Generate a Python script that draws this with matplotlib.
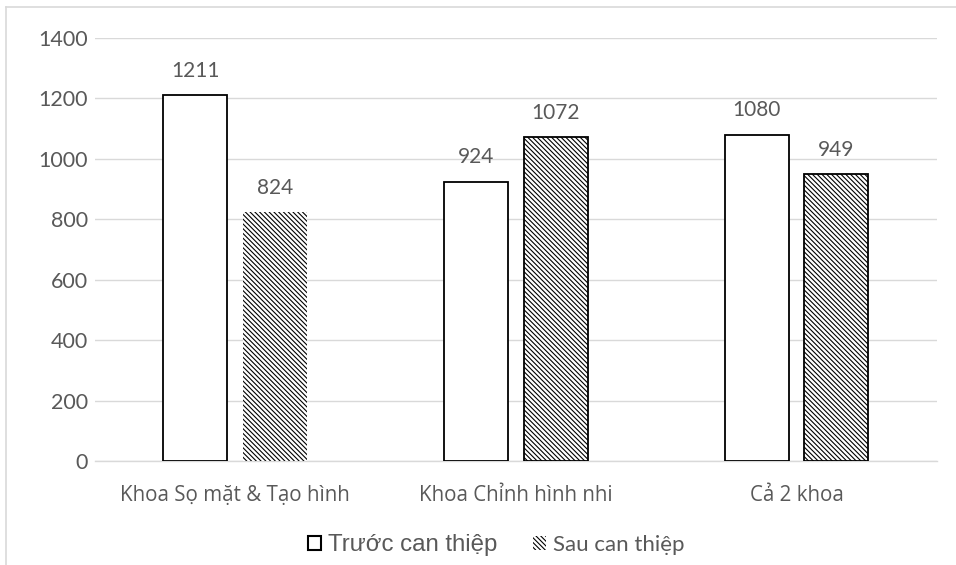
import numpy as np
import matplotlib
matplotlib.use("Agg")
import matplotlib.pyplot as plt
from matplotlib.lines import Line2D
from matplotlib.patches import Patch

# data
categories = ["Khoa Sọ mặt & Tạo hình", "Khoa Chỉnh hình nhi", "Cả 2 khoa"]
truoc = [1211, 924, 1080]
sau = [824, 1072, 949]
series_names = ["Trước can thiệp", "Sau can thiệp"]
yticks = [0, 200, 400, 600, 800, 1000, 1200, 1400]

plt.rcParams["font.family"] = ["Lato", "DejaVu Sans"]
plt.rcParams["hatch.linewidth"] = 0.8
grey_text = "#595959"
HATCH = "\\" * 7

fig = plt.figure(figsize=(9.56, 5.65), dpi=100)
ax = fig.add_axes([0.0994, 0.184, 0.8806, 0.7487])

x = np.arange(len(categories))
w = 0.228
off = 0.142

bars1 = ax.bar(x - off, truoc, width=w, color="white", edgecolor="black",
               linewidth=1.3, zorder=3)
bars2 = ax.bar(x + off, sau, width=w, color="white", edgecolor="black",
               linewidth=1.3, hatch=HATCH, zorder=3)
# first hatched bar has no outline in the original
bars2[0].set_linewidth(0)

for bar in list(bars1) + list(bars2):
    h = bar.get_height()
    ax.text(bar.get_x() + bar.get_width() / 2, h + 48, f"{h:.0f}",
            ha="center", va="bottom", fontsize=15, color=grey_text)

ax.set_xlim(-0.5, 2.5)
ax.set_ylim(0, 1400)
ax.set_yticks(yticks)
ax.set_xticks(x)
ax.set_xticklabels(categories, family=["Open Sans", "DejaVu Sans"],
                   fontsize=14.8)
ax.tick_params(axis="both", length=0, colors=grey_text)
ax.tick_params(axis="y", labelsize=15.5, pad=5)
ax.tick_params(axis="x", pad=17)
ax.grid(axis="y", color="#d9d9d9", linewidth=1, zorder=0)
for s in ["top", "right", "left"]:
    ax.spines[s].set_visible(False)
ax.spines["bottom"].set_color("#d9d9d9")
ax.spines["bottom"].set_linewidth(1)

# legend
handles = [Patch(facecolor="white", edgecolor="black", linewidth=1.5),
           Patch(facecolor="white", edgecolor="black", linewidth=0,
                 hatch=HATCH)]
leg = fig.legend(handles, series_names, loc="center",
                 bbox_to_anchor=(496 / 956, 1 - 545 / 565), ncol=2,
                 frameon=False, fontsize=16, handlelength=0.6,
                 handleheight=0.6, handletextpad=0.3, columnspacing=1.6)
for t in leg.get_texts():
    t.set_color(grey_text)
leg.get_texts()[0].set_fontsize(17.3)
leg.get_texts()[0].set_family(["Liberation Sans", "DejaVu Sans"])

# chart area border (top and left visible)
fig.add_artist(Line2D([6 / 956, 1], [1 - 7 / 565, 1 - 7 / 565],
                      color="#d9d9d9", linewidth=1.2))
fig.add_artist(Line2D([6 / 956, 6 / 956], [0, 1 - 7 / 565],
                      color="#d9d9d9", linewidth=1.2))

fig.savefig("out.png", dpi=100)
